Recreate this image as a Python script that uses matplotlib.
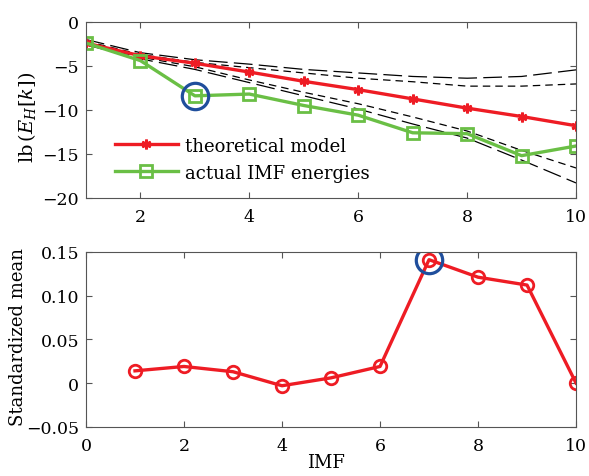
import numpy as np
import matplotlib
matplotlib.use('Agg')
from matplotlib import pyplot as plt
from matplotlib.ticker import FuncFormatter

plt.rcParams['font.family'] = 'DejaVu Serif'
plt.rcParams['mathtext.fontset'] = 'dejavuserif'
plt.rcParams['font.size'] = 12

# upper panel
imf = np.arange(1, 11)
theory = [-2.4, -3.85, -4.7, -5.7, -6.75, -7.7, -8.75, -9.8, -10.75, -11.8]
actual = [-2.4, -4.4, -8.4, -8.2, -9.5, -10.6, -12.6, -12.7, -15.2, -14.1]
upper_outer = [-2.0, -3.5, -4.3, -4.8, -5.4, -5.8, -6.2, -6.4, -6.2, -5.45]
upper_inner = [-2.2, -3.7, -4.6, -5.2, -5.8, -6.4, -6.8, -7.3, -7.3, -7.05]
lower_inner = [-2.5, -4.0, -5.1, -6.6, -8.0, -9.3, -10.8, -12.4, -14.6, -16.6]
lower_outer = [-2.6, -4.2, -5.4, -6.9, -8.4, -9.9, -11.6, -13.2, -15.7, -18.3]
marked_top = 3

# lower panel
std_mean = [0.014, 0.019, 0.013, -0.003, 0.006, 0.019, 0.141, 0.121, 0.112, 0.0]
marked_bottom = 7

red = '#ee1c24'
green = '#6abf45'
blue = '#1f4e9c'
spine = '#555555'


def style_axes(ax):
    for s in ax.spines.values():
        s.set_color(spine)
        s.set_linewidth(0.8)
    ax.tick_params(direction='in', top=True, right=True, length=4,
                   color=spine, labelsize=12.5, pad=5)
    ax.tick_params(axis='x', pad=7)


def fmt(v, pos):
    if abs(v) < 1e-9:
        return '0'
    return ('%g' % v).replace('-', '\u2212') if abs(v) >= 1 else \
        ('%.2f' % v).replace('-', '\u2212')


fig = plt.figure(figsize=(5.89, 4.77), dpi=100)
ax1 = fig.add_axes([0.146, 0.583, 0.832, 0.369])
ax2 = fig.add_axes([0.146, 0.103, 0.832, 0.367])

ax1.plot(imf, upper_outer, color='black', lw=0.9, dashes=(15, 5))
ax1.plot(imf, lower_outer, color='black', lw=0.9, dashes=(15, 5))
ax1.plot(imf, upper_inner, color='black', lw=0.9, dashes=(6, 4))
ax1.plot(imf, lower_inner, color='black', lw=0.9, dashes=(6, 4))
ax1.plot(imf, theory, color=red, lw=2.4, marker=(6, 2, 0), ms=7, mew=2,
         label='theoretical model')
ax1.plot(imf, actual, color=green, lw=2.4, marker='s', ms=9, mew=2,
         mfc='none', label='actual IMF energies')
ax1.plot(marked_top, actual[marked_top - 1], 'o', ms=19, mfc='none',
         mec=blue, mew=2.3)
ax1.set_xlim(1, 10)
ax1.set_ylim(-20, 0)
ax1.set_xticks([2, 4, 6, 8, 10])
ax1.set_yticks([-20, -15, -10, -5, 0])
ax1.yaxis.set_major_formatter(FuncFormatter(fmt))
ax1.set_ylabel(r'lb$\,(E_H[k])$', fontsize=14)
ax1.yaxis.set_label_coords(-0.098, 0.465)
style_axes(ax1)
ax1.legend(loc='upper left', bbox_to_anchor=(0.04, 0.40), frameon=False,
           borderpad=0, handlelength=3.5, handletextpad=0.4, labelspacing=0.5,
           fontsize=13)

ax2.plot(imf, std_mean, color=red, lw=2.4, marker='o', ms=9, mew=2,
         mfc='none')
ax2.plot(marked_bottom, std_mean[marked_bottom - 1], 'o', ms=19, mfc='none',
         mec=blue, mew=2.3)
ax2.set_xlim(0, 10)
ax2.set_ylim(-0.05, 0.15)
ax2.set_xticks([0, 2, 4, 6, 8, 10])
ax2.set_yticks([-0.05, 0, 0.05, 0.10, 0.15])
ax2.yaxis.set_major_formatter(FuncFormatter(fmt))
ax2.set_xlabel('IMF', fontsize=13, va='top')
ax2.xaxis.set_label_coords(0.49, -0.152)
ax2.set_ylabel('Standardized mean', fontsize=13)
ax2.yaxis.set_label_coords(-0.12, 0.52)
style_axes(ax2)

fig.savefig('out.png', dpi=100)
